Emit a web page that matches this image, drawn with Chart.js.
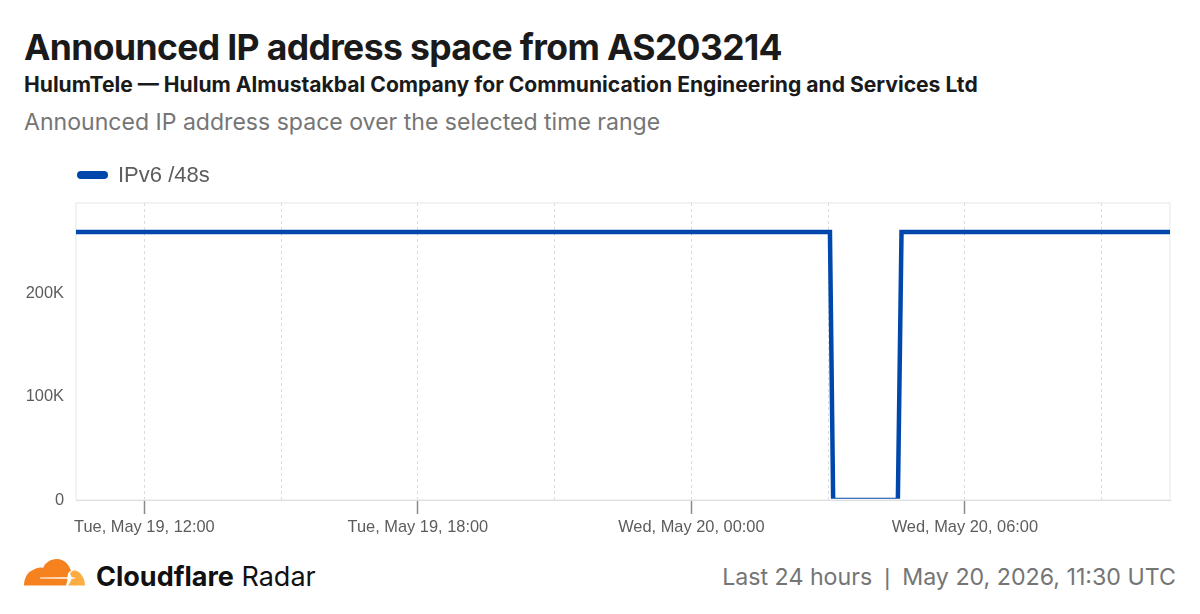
<!DOCTYPE html>
<html>
<head>
<meta charset="utf-8">
<style>
  html, body { margin: 0; padding: 0; background: #fff; }
  body { width: 1200px; height: 614px; position: relative; overflow: hidden; font-family: Inter, sans-serif; }
  .txt { position: absolute; white-space: nowrap; }
  #title { left: 24px; top: 26px; font-size: 35.5px; line-height: 44px; font-weight: 700; color: #1a1a1a; letter-spacing: -0.63px; }
  #subtitle { left: 24px; top: 71px; font-size: 21.1px; line-height: 28px; font-weight: 700; color: #1a1a1a; }
  #desc { left: 24px; top: 107px; font-size: 23.07px; line-height: 30px; color: #757575; }
  #legend { left: 76px; top: 162px; height: 26px; }
  #legendSwatch { position: absolute; left: 1px; top: 9px; width: 31px; height: 8px; border-radius: 4px; background: #0047ab; }
  #legendText { position: absolute; left: 42px; top: 0; font: 22px/26px "Liberation Sans", sans-serif; color: #5c5c5c; }
  #chartBox { position: absolute; left: 0; top: 182px; width: 1200px; height: 368px; }
  #logo { position: absolute; left: 24px; top: 558px; }
  #brand { left: 96px; top: 559px; font-size: 27px; line-height: 36px; color: #111; }
  #brand b { font-weight: 700; }
  #stamp { right: 24px; top: 559px; font-size: 23.2px; line-height: 36px; color: #757575; }
  #stamp span { font-family: "Liberation Sans", sans-serif; margin: 0 12px; }
</style>
</head>
<body>
<div id="title" class="txt">Announced IP address space from AS203214</div>
<div id="subtitle" class="txt">HulumTele — Hulum Almustakbal Company for Communication Engineering and Services Ltd</div>
<div id="desc" class="txt">Announced IP address space over the selected time range</div>
<div id="chartBox"><canvas id="grafico" width="1200" height="368"></canvas></div>
<div id="legend" class="txt"><span id="legendSwatch"></span><span id="legendText"></span></div>
<svg id="logo" width="62" height="30" viewBox="0 0 62 30">
  <path fill="#fbad41" d="M44 27.500 C47 24 47 21 46 18 C46 14 48 12.500 51 12.500 C56 13 61 20 61 27.500 Z"/>
  <path fill="#f6821f" d="M0 27.500 C0 21 3 14 9 12 C12 10 16 9 19 10 C21 5 26 1 33 1 C40 1 45 6 47 13 C44 14 43 17 44 20 L42 27.500 Z"/>
  <path fill="#ffffff" d="M16 19.400 L43 19.200 L46 15.500 L47.500 19 L52 20 L47.500 21 L46 24.500 L43 20.800 L16 20.600 Z"/>
</svg>
<div id="brand" class="txt"><b>Cloudflare</b> Radar</div>
<div id="stamp" class="txt">Last 24 hours<span>|</span>May 20, 2026, 11:30 UTC</div>

<script src="https://cdn.jsdelivr.net/npm/chart.js@4"></script>
<script>
const serieNome = "IPv6 /48s";
// hours counted from May 19, 00:00 UTC
const horas = [10.5, 27.04, 27.11, 28.53, 28.61, 34.5];
const valores = [260000, 260000, 0, 0, 260000, 260000];
const inicioHoras = 10.5;
const fimHoras = 34.5;
const gradeHoras = [12, 15, 18, 21, 24, 27, 30, 33];
const rotulosHoras = {
  12: "Tue, May 19, 12:00",
  18: "Tue, May 19, 18:00",
  24: "Wed, May 20, 00:00",
  30: "Wed, May 20, 06:00",
};
const ticksY = [0, 100000, 200000];
const rotulosY = ["0", "100K", "200K"];
const maxY = 288000;

const corLinha = "#0047ab";
const fonteEixo = { family: "'Liberation Sans', sans-serif", size: 16.4 };

document.getElementById("legendText").innerText = serieNome;

const moldura = {
  id: "moldura",
  beforeDatasetsDraw(chart) {
    const { ctx, chartArea: a } = chart;
    ctx.save();
    ctx.strokeStyle = "#e6e6e6";
    ctx.lineWidth = 1;
    ctx.strokeRect(a.left, a.top, a.right - a.left, a.bottom - a.top);
    ctx.restore();
  },
};

new Chart(document.getElementById("grafico"), {
  type: "line",
  plugins: [moldura],
  data: {
    datasets: [
      {
        label: serieNome,
        data: horas.map((h, i) => ({ x: h, y: valores[i] })),
        borderColor: corLinha,
        borderWidth: 4.5,
        pointRadius: 0,
        tension: 0,
        clip: { left: 0, right: 0, top: 0, bottom: -1.2 },
        borderJoinStyle: "miter",
      },
    ],
  },
  options: {
    responsive: false,
    animation: false,
    layout: { padding: { top: 21, right: 30, left: 0, bottom: 0 } },
    plugins: { legend: { display: false }, tooltip: { enabled: false } },
    scales: {
      x: {
        type: "linear",
        min: inicioHoras,
        max: fimHoras,
        afterBuildTicks: (s) => {
          s.ticks = gradeHoras.map((h) => ({ value: h }));
        },
        afterFit: (s) => {
          s.height = 50;
        },
        border: { color: "#d9d9d9", dash: [3, 3] },
        grid: {
          color: "#dcdcdc",
          tickLength: 14,
          tickColor: (c) => (rotulosHoras[c.tick.value] ? "#8a8a8a" : "transparent"),
          tickBorderDash: [],
          tickWidth: 1.5,
        },
        ticks: {
          autoSkip: false,
          maxRotation: 0,
          color: "#5c5c5c",
          font: fonteEixo,
          padding: 4,
          callback: (v) => rotulosHoras[v] || "",
        },
      },
      y: {
        min: 0,
        max: maxY,
        afterBuildTicks: (s) => {
          s.ticks = ticksY.map((v) => ({ value: v }));
        },
        afterFit: (s) => {
          s.width = 76;
          s.paddingTop = 0;
          s.paddingBottom = 0;
        },
        border: { display: false },
        grid: { display: false },
        ticks: {
          color: "#5c5c5c",
          font: fonteEixo,
          padding: 4,
          callback: (v) => rotulosY[ticksY.indexOf(v)],
        },
      },
    },
  },
});
</script>
</body>
</html>
